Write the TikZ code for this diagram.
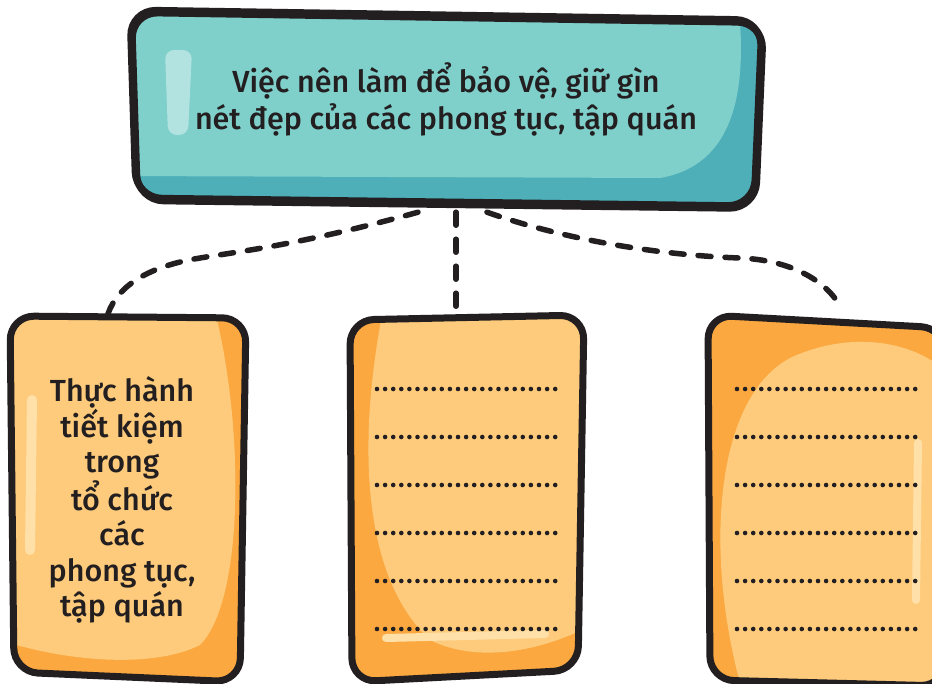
\documentclass[tikz,border=0pt]{standalone}
\usepackage{fontspec}
\setmainfont{Fira Sans}[UprightFont=* Medium]
\definecolor{ink}{HTML}{231F20}
\definecolor{teallight}{HTML}{7FCFCB}
\definecolor{tealdark}{HTML}{4EAFB9}
\definecolor{tealhl}{HTML}{B2E3E1}
\definecolor{orlight}{HTML}{FDCB7B}
\definecolor{ordark}{HTML}{FBA840}
\definecolor{orhl}{HTML}{FEE0A8}
\tikzset{
  anchorbox/.style={inner sep=0pt, draw=none},
  conn/.style={draw=ink, line width=5.5pt, line cap=round, dash pattern=on 13pt off 14pt},
  outline/.style={draw=ink, line width=7pt, line join=round, rounded corners=24pt},
  label/.style={text=ink, align=center, inner sep=0pt},
  dotfill/.style={fill=ink}
}
\begin{document}
\begin{tikzpicture}[x=1pt,y=-1pt]
\useasboundingbox (0,0) rectangle (932,683);
\clip (0,0) rectangle (932,683);
\fill[white] (0,0) rectangle (932,683);
% anchor nodes
\node[anchorbox, minimum width=630pt, minimum height=200pt] (topbox) at (446,108) {};
\node[anchorbox, minimum width=236pt, minimum height=368pt] (leftbox) at (128,500) {};
\node[anchorbox, minimum width=234pt, minimum height=368pt] (midbox) at (466,500) {};
\node[anchorbox, minimum width=236pt, minimum height=368pt] (rightbox) at (826,500) {};
\coordinate (tl) at ([xshift=-28pt,yshift=-4pt]topbox.south);
\coordinate (tm) at ([xshift=10pt,yshift=-4pt]topbox.south);
\coordinate (tr) at ([xshift=41pt,yshift=-4pt]topbox.south);
\coordinate (lb) at ([xshift=-20pt,yshift=2pt]leftbox.north);
\coordinate (mb) at ([xshift=-10pt]midbox.north);
\coordinate (rb) at ([xshift=14pt,yshift=10pt]rightbox.north);
% connectors
\draw[conn] (tl) .. controls (300,245) and (235,252) .. (200,258) .. controls (150,266) and (118,285) .. (lb);
\draw[conn] (tm) -- (mb);
\draw[conn] (tr) .. controls (580,245) and (680,256) .. (740,258) .. controls (790,260) and (825,280) .. (rb);
% top box
\def\topshape{(130,10) -- (762,20) -- (754,206) -- (136,198) -- cycle}
\fill[tealdark, rounded corners=26pt] \topshape;
\begin{scope}
\clip[rounded corners=26pt] \topshape;
\fill[teallight] (120,0) -- (738,0) .. controls (748,90) and (735,165) .. (660,178) -- (120,176) -- cycle;
\end{scope}
\fill[tealhl, rounded corners=9pt] (165,50) -- (192,50) -- (188,135) -- (168,135) -- cycle;
\draw[outline, rounded corners=26pt, shift={(1.5pt,-2.5pt)}] \topshape;
\draw[outline, rounded corners=26pt] \topshape;
% left box
\def\leftshape{(10,316) -- (246,318) -- (240,682) -- (14,672) -- cycle}
\fill[ordark, rounded corners=24pt] \leftshape;
\begin{scope}
\clip[rounded corners=24pt] \leftshape;
\fill[orlight] (0,300) -- (212,300) .. controls (245,420) and (245,600) .. (200,645) .. controls (150,670) and (60,660) .. (0,640) -- cycle;
\end{scope}
\draw[orhl, line width=10pt, line cap=round] (32,400) -- (30,550);
\draw[outline] \leftshape;
% middle box
\def\midshape{(350,320) -- (584,315) -- (578,670) -- (352,682) -- cycle}
\fill[ordark, rounded corners=24pt] \midshape;
\begin{scope}
\clip[rounded corners=24pt] \midshape;
\fill[orlight] (385,300) .. controls (360,420) and (355,570) .. (430,640) .. controls (480,665) and (550,650) .. (600,620) -- (600,300) -- cycle;
\end{scope}
\draw[orhl, line width=8pt, line cap=round] (386,638) -- (545,634);
\draw[outline] \midshape;
% right box
\def\rightshape{(708,315) -- (945,328) -- (945,686) -- (710,680) -- cycle}
\fill[ordark, rounded corners=24pt] \rightshape;
\begin{scope}
\clip[rounded corners=24pt] \rightshape;
\fill[orlight] (742,690) .. controls (705,560) and (712,400) .. (790,358) .. controls (850,330) and (915,340) .. (950,375) -- (950,690) -- cycle;
\end{scope}
\draw[orhl, line width=8pt, line cap=round] (918,443) -- (916,600);
\draw[outline] \rightshape;
% dotted answer lines
\foreach \yy in {389,437,485,533,581,629}{
  \foreach \k in {0,...,22}{
    \fill[dotfill] ({377+\k*8.1},\yy) circle (2.3pt);
    \fill[dotfill] ({737+\k*8.1},\yy) circle (2.3pt);
  }
}
% texts
\node[label, font=\fontsize{30.5}{37}\selectfont] (toptext) at (446,99) {Việc nên làm để bảo vệ, giữ gìn\\nét đẹp của các phong tục, tập quán};
\node[label, font=\fontsize{30.5}{35.5}\selectfont] (lefttext) at (122,500) {Thực hành\\tiết kiệm\\trong\\tổ chức\\các\\phong tục,\\tập quán};
\end{tikzpicture}
\end{document}
